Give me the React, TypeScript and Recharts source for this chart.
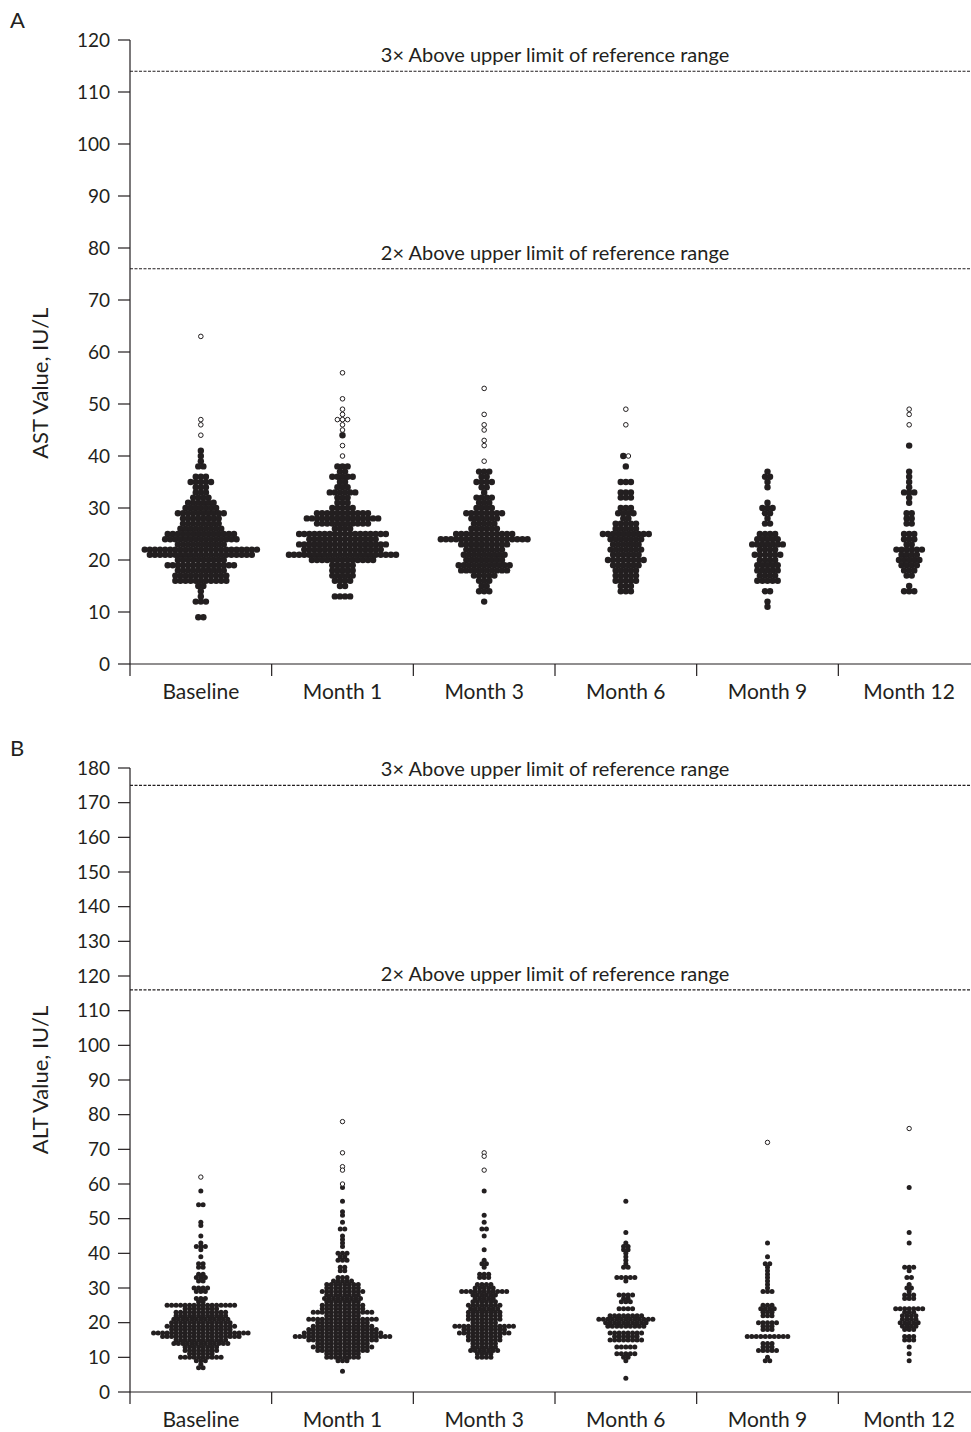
import { ReferenceLine, Scatter, ScatterChart, XAxis, YAxis } from "recharts";

const INK = "#231f20";
const PAGE_W = 971;
const CHART_W = 980; // the right end of the axis runs just past the page edge
const PLOT_LEFT = 130;
const PLOT_W = CHART_W - PLOT_LEFT;

const visits = ["Baseline", "Month 1", "Month 3", "Month 6", "Month 9", "Month 12"];

// [value, number of patients at that value]
type Row = [number, number];

// Panel A - AST
const astTicks = [0, 10, 20, 30, 40, 50, 60, 70, 80, 90, 100, 110, 120];
const astLimits = [114, 76];
const astLimitLabels = ["3× Above upper limit of reference range", "2× Above upper limit of reference range"];

const astBaseline: Row[] = [
  [41, 1], [40, 1], [39, 1], [38, 2], [36, 3], [35, 5], [34, 3], [33, 3], [32, 4], [31, 6],
  [30, 7], [29, 10], [28, 8], [27, 8], [26, 9], [25, 14], [24, 15], [23, 10], [22, 23], [21, 21],
  [20, 10], [19, 14], [18, 10], [17, 11], [16, 11], [15, 2], [14, 1], [13, 1], [12, 3], [9, 2],
];
const astBaselineHigh = [63, 47, 46, 44];

const astMonth1: Row[] = [
  [44, 1], [38, 3], [37, 2], [36, 5], [35, 2], [34, 3], [33, 6], [32, 3], [31, 3], [30, 5],
  [29, 11], [28, 15], [27, 11], [26, 4], [25, 18], [24, 14], [23, 18], [22, 16], [21, 22], [20, 13],
  [19, 5], [18, 5], [17, 5], [16, 4], [15, 2], [13, 4],
];
const astMonth1High = [56, 51, 49, 48, 47, 47, 47, 46, 45, 42, 40];

const astMonth3: Row[] = [
  [37, 3], [36, 2], [35, 4], [34, 2], [33, 1], [32, 4], [31, 3], [30, 4], [29, 8], [28, 6],
  [27, 5], [26, 6], [25, 12], [24, 18], [23, 10], [22, 8], [21, 9], [20, 8], [19, 11], [18, 10],
  [17, 5], [16, 3], [15, 2], [14, 3], [12, 1],
];
const astMonth3High = [53, 48, 46, 45, 43, 42, 39];

const astMonth6: Row[] = [
  [40, 1], [38, 1], [35, 3], [33, 3], [32, 3], [30, 3], [29, 4], [28, 2], [27, 5], [26, 5],
  [25, 10], [24, 7], [23, 6], [22, 7], [21, 6], [20, 8], [19, 6], [18, 5], [17, 5], [16, 5],
  [15, 3], [14, 3],
];
const astMonth6High = [49, 46, 40];

const astMonth9: Row[] = [
  [37, 1], [36, 2], [35, 1], [34, 1], [31, 1], [30, 3], [29, 2], [28, 1], [27, 2], [25, 4],
  [24, 5], [23, 7], [22, 4], [21, 6], [20, 4], [19, 5], [18, 5], [17, 4], [16, 5], [14, 2],
  [12, 1], [11, 1],
];
const astMonth9High: number[] = [];

const astMonth12: Row[] = [
  [42, 1], [37, 1], [36, 1], [35, 1], [34, 1], [33, 3], [32, 1], [31, 1], [29, 2], [28, 2],
  [27, 2], [25, 3], [24, 3], [23, 2], [22, 6], [21, 4], [20, 5], [19, 4], [18, 3], [17, 2],
  [15, 1], [14, 3],
];
const astMonth12High = [49, 48, 46];

// Panel B - ALT
const altTicks = [0, 10, 20, 30, 40, 50, 60, 70, 80, 90, 100, 110, 120, 130, 140, 150, 160, 170, 180];
const altLimits = [175, 116];
const altLimitLabels = ["3× Above upper limit of reference range", "2× Above upper limit of reference range"];

const altBaseline: Row[] = [
  [58, 1], [54, 2], [49, 1], [48, 1], [45, 1], [43, 1], [42, 3], [41, 1], [39, 1], [37, 2],
  [36, 2], [34, 2], [33, 3], [32, 2], [30, 4], [29, 3], [27, 3], [26, 2], [25, 16], [24, 8],
  [23, 12], [22, 12], [21, 13], [20, 14], [19, 16], [18, 14], [17, 22], [16, 18], [15, 12], [14, 13],
  [13, 8], [12, 8], [11, 6], [10, 10], [9, 3], [8, 1], [7, 2],
];
const altBaselineHigh = [62];

const altMonth1: Row[] = [
  [59, 1], [55, 1], [52, 1], [51, 1], [49, 1], [47, 2], [45, 1], [44, 1], [43, 1], [42, 1],
  [40, 3], [39, 2], [38, 3], [36, 2], [35, 2], [33, 3], [32, 5], [31, 8], [30, 8], [29, 10],
  [28, 8], [27, 9], [26, 8], [25, 10], [24, 10], [23, 14], [22, 8], [21, 16], [20, 12], [19, 14],
  [18, 16], [17, 18], [16, 22], [15, 16], [14, 12], [13, 14], [12, 12], [11, 8], [10, 8], [9, 3],
  [6, 1],
];
const altMonth1High = [78, 69, 65, 64, 60];

const altMonth3: Row[] = [
  [58, 1], [51, 1], [49, 1], [47, 2], [45, 1], [41, 1], [38, 1], [37, 2], [36, 1], [34, 3],
  [33, 3], [31, 4], [30, 5], [29, 11], [28, 6], [27, 5], [26, 6], [25, 8], [24, 7], [23, 8],
  [22, 8], [21, 8], [20, 6], [19, 14], [18, 10], [17, 12], [16, 8], [15, 8], [14, 6], [13, 6],
  [12, 7], [11, 4], [10, 4],
];
const altMonth3High = [69, 68, 64];

const altMonth6: Row[] = [
  [55, 1], [46, 1], [43, 1], [42, 2], [41, 2], [40, 1], [39, 1], [38, 1], [37, 1], [36, 2],
  [33, 5], [32, 1], [28, 4], [27, 2], [26, 3], [24, 4], [22, 8], [21, 13], [20, 10], [19, 9],
  [17, 8], [16, 6], [15, 8], [13, 5], [11, 5], [10, 2], [9, 1], [4, 1],
];
const altMonth6High: number[] = [];

const altMonth9: Row[] = [
  [43, 1], [39, 1], [37, 2], [36, 1], [35, 1], [34, 1], [33, 1], [32, 1], [31, 1], [30, 1],
  [29, 3], [25, 3], [24, 4], [23, 3], [22, 3], [20, 5], [19, 3], [18, 3], [16, 10], [14, 3],
  [13, 3], [12, 5], [10, 1], [9, 2],
];
const altMonth9High = [72];

const altMonth12: Row[] = [
  [59, 1], [46, 1], [43, 1], [36, 3], [35, 1], [33, 2], [31, 1], [30, 2], [29, 1], [28, 3],
  [27, 3], [24, 7], [23, 3], [22, 4], [21, 4], [20, 5], [19, 4], [18, 3], [16, 3], [15, 3],
  [13, 1], [11, 1], [9, 1],
];
const altMonth12High = [76];

type Pt = { x: number; y: number };

// lay out each value's dots side by side, centred on the visit
function swarm(groups: Row[][], highs: number[][], spacingPx: number) {
  const step = (spacingPx * visits.length) / PLOT_W;
  const filled: Pt[] = [];
  const hollow: Pt[] = [];
  groups.forEach((rows, g) => {
    const counts = new Map<number, { solid: number; open: number }>();
    const get = (v: number) => {
      if (!counts.has(v)) counts.set(v, { solid: 0, open: 0 });
      return counts.get(v)!;
    };
    rows.forEach(([v, n]) => (get(v).solid += n));
    highs[g].forEach((v) => (get(v).open += 1));
    counts.forEach((c, v) => {
      const n = c.solid + c.open;
      for (let i = 0; i < n; i++) {
        const pt = { x: g + 0.5 + (i - (n - 1) / 2) * step, y: v };
        (i < c.solid ? filled : hollow).push(pt);
      }
    });
  });
  return { filled, hollow };
}

// boundaries get a tick mark, centres get the visit name
function VisitTick(props: any) {
  const { x, y, payload } = props;
  const v = payload.value as number;
  if (Number.isInteger(v)) {
    return <line x1={x} y1={y} x2={x} y2={y + 12} stroke={INK} strokeWidth={1.2} />;
  }
  return (
    <text x={x} y={y + 35} textAnchor="middle" fontSize={21} fill={INK}>
      {visits[Math.floor(v)]}
    </text>
  );
}

function YTitle(props: any) {
  const { viewBox, text, at } = props;
  const x = viewBox.x - 12;
  const y = viewBox.y + viewBox.height * at;
  return (
    <text x={x} y={y} transform={`rotate(-90 ${x} ${y})`} textAnchor="middle" fontSize={22} fill={INK}>
      {text}
    </text>
  );
}

type PanelProps = {
  letter: string;
  title: string;
  titleAt: number;
  ticks: number[];
  limits: number[];
  limitLabels: string[];
  groups: Row[][];
  highs: number[][];
  spacing: number;
  dotR: number;
  openR: number;
};

function Panel(p: PanelProps) {
  const { filled, hollow } = swarm(p.groups, p.highs, p.spacing);
  const yMax = p.ticks[p.ticks.length - 1];
  const xTicks = [0, ...visits.flatMap((_, i) => [i + 0.5, i + 1])];
  return (
    <div style={{ position: "relative", width: PAGE_W, height: 704, overflow: "hidden" }}>
      <div style={{ position: "absolute", left: 10, top: 9, fontSize: 22, lineHeight: 1, color: INK }}>{p.letter}</div>
      <ScatterChart width={CHART_W} height={704} margin={{ top: 40, right: 0, bottom: 0, left: 60 }}>
        <XAxis
          type="number"
          dataKey="x"
          domain={[0, visits.length]}
          ticks={xTicks}
          interval={0}
          tick={<VisitTick />}
          tickLine={false}
          tickSize={0}
          tickMargin={0}
          height={40}
          stroke={INK}
          strokeWidth={1.2}
        />
        <YAxis
          type="number"
          dataKey="y"
          domain={[0, yMax]}
          ticks={p.ticks}
          interval={0}
          width={70}
          tickSize={12}
          tickMargin={8}
          stroke={INK}
          strokeWidth={1.2}
          tick={{ fontSize: 19, fill: INK }}
          label={<YTitle text={p.title} at={p.titleAt} />}
        />
        {p.limits.map((v, i) => (
          <ReferenceLine
            key={v}
            y={v}
            stroke={INK}
            strokeWidth={1.1}
            strokeDasharray="3 1.5"
            label={{ value: p.limitLabels[i], position: "top", fontSize: 20, fill: INK, offset: 9 }}
          />
        ))}
        <Scatter
          data={filled}
          isAnimationActive={false}
          shape={(s: any) => <circle cx={s.cx} cy={s.cy} r={p.dotR} fill={INK} />}
        />
        <Scatter
          data={hollow}
          isAnimationActive={false}
          shape={(s: any) => <circle cx={s.cx} cy={s.cy} r={p.openR} fill="#fff" stroke={INK} strokeWidth={1} />}
        />
      </ScatterChart>
    </div>
  );
}

export default function App() {
  return (
    <div style={{ position: "absolute", left: 0, top: 0, width: PAGE_W, height: 1432, overflow: "hidden", background: "#fff", fontFamily: "Lato, 'Open Sans', sans-serif" }}>
      <Panel
        letter="A"
        title="AST Value, IU/L"
        titleAt={0.55}
        ticks={astTicks}
        limits={astLimits}
        limitLabels={astLimitLabels}
        groups={[astBaseline, astMonth1, astMonth3, astMonth6, astMonth9, astMonth12]}
        highs={[astBaselineHigh, astMonth1High, astMonth3High, astMonth6High, astMonth9High, astMonth12High]}
        spacing={5.1}
        dotR={3.2}
        openR={2.3}
      />
      <div style={{ position: "absolute", left: 0, top: 728 }}>
        <Panel
          letter="B"
          title="ALT Value, IU/L"
          titleAt={0.5}
          ticks={altTicks}
          limits={altLimits}
          limitLabels={altLimitLabels}
          groups={[altBaseline, altMonth1, altMonth3, altMonth6, altMonth9, altMonth12]}
          highs={[altBaselineHigh, altMonth1High, altMonth3High, altMonth6High, altMonth9High, altMonth12High]}
          spacing={4.5}
          dotR={2.5}
          openR={2.2}
        />
      </div>
    </div>
  );
}
